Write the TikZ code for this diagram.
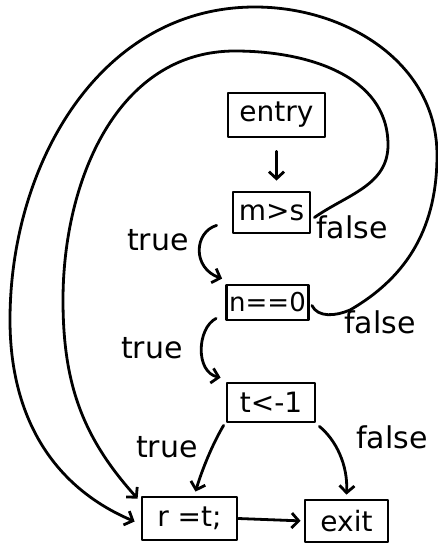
\documentclass[tikz,border=0pt]{standalone}
\usepackage{fontspec}
\setmainfont{DejaVu Sans}
\usetikzlibrary{arrows.meta}
\begin{document}
\begin{tikzpicture}[x=1pt,y=-1pt, line width=2.8pt, line cap=round, line join=round,
  box/.style={draw, inner sep=0pt, font=\fontsize{28}{30}\selectfont},
  lbl/.style={font=\fontsize{30}{32}\selectfont, inner sep=0pt},
  arr/.style={-{Straight Barb[length=7pt,width=15pt]}}]
\useasboundingbox (0,0) rectangle (438,546);
% nodes
\node[box, minimum width=97pt, minimum height=44pt] (entry) at (276.5,115) {entry};
\node[box, minimum width=77pt, minimum height=41pt] (ms) at (271.5,212.5) {m>s};
\node[box, minimum width=82pt, minimum height=35pt] (nz) at (267.5,302.5) {\fontsize{26}{28}\selectfont n==0};
\node[box, minimum width=88pt, minimum height=39pt] (tl) at (271,402.5) {t<-1};
\node[box, minimum width=95pt, minimum height=43pt] (rt) at (189.5,518.5) {r =t;};
\node[box, minimum width=83pt, minimum height=42pt] (ex) at (346.5,521) {exit};
% labels
\node[lbl] (t1) at (158,240) {true};
\node[lbl] (t2) at (152,348) {true};
\node[lbl] (t3) at (167,447) {true};
\node[lbl] (f1) at (352,227) {false};
\node[lbl] (f2) at (380,322) {false};
\node[lbl] (f3) at (392,437) {false};
% edges
\draw[arr, shorten <=13pt, shorten >=10pt] (entry.south) -- (entry.south |- ms.north);
\draw[arr] ([shift={(-15,-9)}]ms.south west) .. controls (194,232) and (192,268) .. ([shift={(-3,-5)}]nz.north west);
\draw[arr] ([shift={(-9,-3)}]nz.south west) .. controls (197,328) and (195,372) .. ([shift={(-5,-4)}]tl.north west);
\draw[arr] ([shift={(-2,2)}]tl.south west) .. controls (212,445) and (202,470) .. ([shift={(6,-4)}]rt.north);
\draw[arr] ([shift={(3,3)}]tl.south east) .. controls (336,440) and (348,465) .. ([shift={(0,-4)}]ex.north);
\draw[arr, shorten >=3pt] (rt.east) -- (ex.west);
% m>s false -> r=t;
\draw[arr] ([shift={(3,5)}]ms.east) to[out=35,in=-90] (388,145) to[out=90,in=0] (235,51)
  to[out=180,in=90] (63,300) to[out=-90,in=132] ([shift={(-3,3)}]rt.north west);
% n==0 false -> r=t;
\draw[arr] ([shift={(2,3)}]nz.east) .. controls (318,318) and (336,316) .. (350,310)
  to[out=30,in=-90] (437,155) to[out=90,in=0] (255,7)
  to[out=180,in=90] (10,320) to[out=-90,in=157] ([shift={(-6,3)}]rt.west);
\end{tikzpicture}
\end{document}
